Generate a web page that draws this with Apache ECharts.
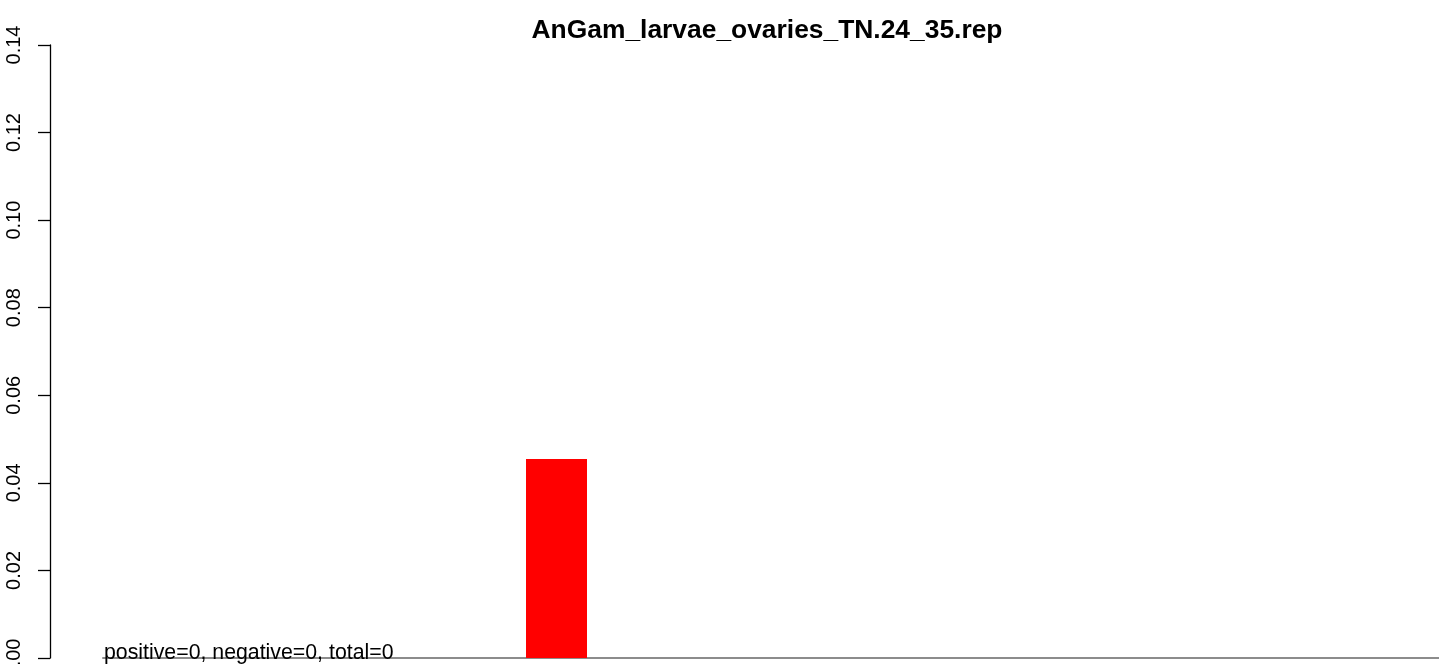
<!DOCTYPE html>
<html>
<head>
<meta charset="utf-8">
<script src="https://cdn.jsdelivr.net/npm/echarts@6/dist/echarts.min.js"></script>
<style>
html,body{margin:0;padding:0;background:#fff;}
#chart{width:1439px;height:664px;}
</style>
</head>
<body>
<div id="chart"></div>
<script>
var titleText = "AnGam_larvae_ovaries_TN.24_35.rep";
var noteText = "positive=0, negative=0, total=0";
var categories = ["1","2","3","4","5","6","7","8","9","10","11","12","13","14","15","16","17","18","19","20"];
var values = [0,0,0,0,0,0,0.04545,0,0,0,0,0,0,0,0,0,0,0,0,0];
var yTicks = [0,0.02,0.04,0.06,0.08,0.10,0.12,0.14];

var chart = echarts.init(document.getElementById('chart'), null, {renderer:'canvas'});
var font = "'Liberation Sans', Arial, sans-serif";
chart.setOption({
  animation:false,
  backgroundColor:'#ffffff',
  title:[
    {text:titleText, left:767, top:18, padding:0, textAlign:'center',
     textStyle:{fontFamily:font, fontSize:26.4, fontWeight:'bold', color:'#000'}},
    {text:noteText, left:104, top:643, padding:0,
     textStyle:{fontFamily:font, fontSize:21.3, fontWeight:'normal', color:'#000'}}
  ],
  grid:{left:103, top:45, width:1395.4, height:613, outerBoundsMode:'none', containLabel:false},
  xAxis:{type:'category', data:categories,
    axisLine:{show:true, lineStyle:{color:'#8c8c8c', width:2}},
    axisTick:{show:false}, axisLabel:{show:false}, splitLine:{show:false}},
  yAxis:{type:'value', min:yTicks[0], max:yTicks[yTicks.length-1], interval:0.02, offset:53,
    axisLine:{show:true, lineStyle:{color:'#000', width:1.3}},
    axisTick:{show:true, length:12, lineStyle:{color:'#000', width:1.3}},
    splitLine:{show:false},
    axisLabel:{rotate:90, margin:26, fontFamily:font, fontSize:20, color:'#000',
      formatter:function(v){return v.toFixed(2);}}},
  series:[{type:'bar', data:values, barWidth:61, itemStyle:{color:'#ff0000'}}]
});
</script>
</body>
</html>
